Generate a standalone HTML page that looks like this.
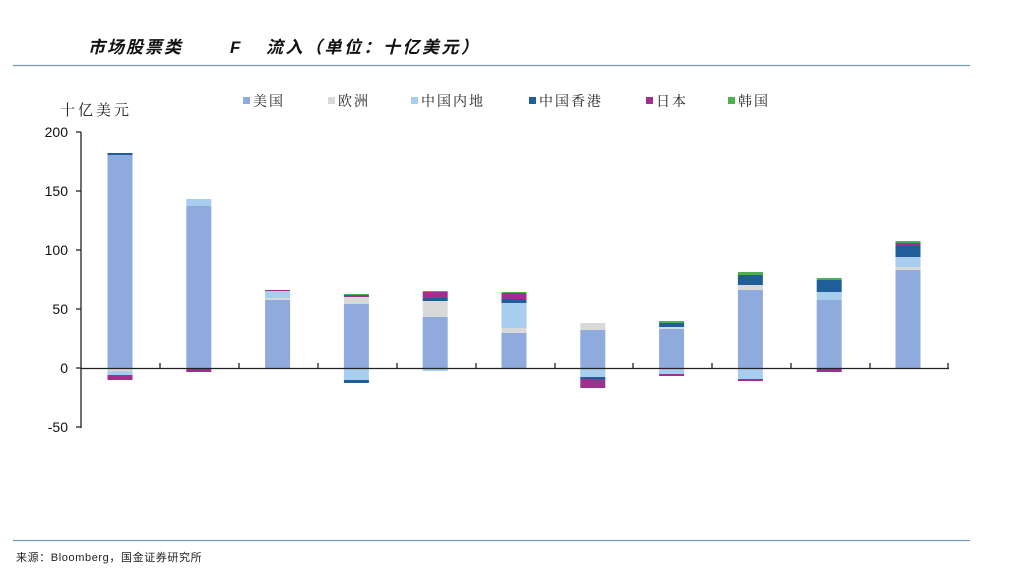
<!DOCTYPE html>
<html><head><meta charset="utf-8"><style>
body{margin:0;background:#fff;}
svg{display:block;font-family:"Liberation Sans","Noto Sans CJK SC",sans-serif;}
</style></head><body>
<svg width="1024" height="575" viewBox="0 0 1024 575" xmlns="http://www.w3.org/2000/svg">
<text x="88" y="53" font-size="17" font-weight="bold" font-style="italic" fill="#111" letter-spacing="2">市场股票类</text>
<text x="230" y="53" font-size="17" font-weight="bold" font-style="italic" fill="#111">F</text>
<text x="266" y="53" font-size="17" font-weight="bold" font-style="italic" fill="#111" letter-spacing="2.5">流入（单位：十亿美元）</text>
<line x1="13" y1="65.5" x2="970" y2="65.5" stroke="#6f9bb8" stroke-width="1.2"/>
<line x1="13" y1="540.5" x2="970" y2="540.5" stroke="#6f9bb8" stroke-width="1.2"/>
<text x="16" y="561" font-size="11" fill="#222" letter-spacing="0.6">来源：Bloomberg，国金证券研究所</text>
<text x="60" y="115" font-size="15" fill="#222" letter-spacing="3" font-family="'Noto Serif CJK SC',serif">十亿美元</text>
<g font-size="14" fill="#222" letter-spacing="2" font-family="'Noto Serif CJK SC',serif">
<rect x="243" y="97" width="7" height="7" fill="#8faadc"/><text x="253" y="106">美国</text>
<rect x="328" y="97" width="7" height="7" fill="#d9d9d9"/><text x="338" y="106">欧洲</text>
<rect x="411" y="97" width="7" height="7" fill="#a9cdee"/><text x="421" y="106">中国内地</text>
<rect x="529" y="97" width="7" height="7" fill="#1f5e99"/><text x="539" y="106">中国香港</text>
<rect x="646" y="97" width="7" height="7" fill="#a0308f"/><text x="656" y="106">日本</text>
<rect x="728" y="97" width="7" height="7" fill="#4caf50"/><text x="738" y="106">韩国</text>
</g>
<g font-size="14" fill="#111" text-anchor="end">
<text x="68" y="137">200</text><text x="68" y="196">150</text><text x="68" y="255">100</text>
<text x="68" y="314">50</text><text x="68" y="373">0</text><text x="68" y="432">-50</text>
</g>
<g>
<rect x="107.5" y="155" width="25" height="213" fill="#8faadc"/>
<rect x="107.5" y="153" width="25" height="2" fill="#1f5e99"/>
<rect x="107.5" y="368" width="25" height="3" fill="#d9d9d9"/>
<rect x="107.5" y="371" width="25" height="4" fill="#a9cdee"/>
<rect x="107.5" y="375" width="25" height="5" fill="#a0308f"/>

<rect x="186.3" y="206" width="25" height="162" fill="#8faadc"/>
<rect x="186.3" y="199" width="25" height="7" fill="#a9cdee"/>
<rect x="186.3" y="368" width="25" height="4" fill="#a0308f"/>

<rect x="265.1" y="300" width="25" height="68" fill="#8faadc"/>
<rect x="265.1" y="298" width="25" height="2" fill="#d9d9d9"/>
<rect x="265.1" y="291" width="25" height="7" fill="#a9cdee"/>
<rect x="265.1" y="290" width="25" height="1" fill="#a0308f"/>

<rect x="343.9" y="304" width="25" height="64" fill="#8faadc"/>
<rect x="343.9" y="297" width="25" height="7" fill="#d9d9d9"/>
<rect x="343.9" y="295" width="25" height="2" fill="#a0308f"/>
<rect x="343.9" y="294" width="25" height="1" fill="#4caf50"/>
<rect x="343.9" y="368" width="25" height="12" fill="#a9cdee"/>
<rect x="343.9" y="380" width="25" height="3" fill="#1f5e99"/>

<rect x="422.7" y="317" width="25" height="51" fill="#8faadc"/>
<rect x="422.7" y="301" width="25" height="16" fill="#d9d9d9"/>
<rect x="422.7" y="298" width="25" height="3" fill="#1f5e99"/>
<rect x="422.7" y="292" width="25" height="6" fill="#a0308f"/>
<rect x="422.7" y="291" width="25" height="1" fill="#4caf50"/>
<rect x="422.7" y="368" width="25" height="3" fill="#a9cdee"/>

<rect x="501.5" y="333" width="25" height="35" fill="#8faadc"/>
<rect x="501.5" y="328" width="25" height="5" fill="#d9d9d9"/>
<rect x="501.5" y="303" width="25" height="25" fill="#a9cdee"/>
<rect x="501.5" y="299" width="25" height="4" fill="#1f5e99"/>
<rect x="501.5" y="293" width="25" height="6" fill="#a0308f"/>
<rect x="501.5" y="292" width="25" height="1" fill="#4caf50"/>

<rect x="580.3" y="330" width="25" height="38" fill="#8faadc"/>
<rect x="580.3" y="323" width="25" height="7" fill="#d9d9d9"/>
<rect x="580.3" y="368" width="25" height="9" fill="#a9cdee"/>
<rect x="580.3" y="377" width="25" height="2" fill="#1f5e99"/>
<rect x="580.3" y="379" width="25" height="9" fill="#a0308f"/>

<rect x="659.1" y="329" width="25" height="39" fill="#8faadc"/>
<rect x="659.1" y="327" width="25" height="2" fill="#d9d9d9"/>
<rect x="659.1" y="323" width="25" height="4" fill="#1f5e99"/>
<rect x="659.1" y="321" width="25" height="2" fill="#4caf50"/>
<rect x="659.1" y="368" width="25" height="6" fill="#a9cdee"/>
<rect x="659.1" y="374" width="25" height="2" fill="#a0308f"/>

<rect x="737.9" y="290" width="25" height="78" fill="#8faadc"/>
<rect x="737.9" y="285" width="25" height="5" fill="#d9d9d9"/>
<rect x="737.9" y="275" width="25" height="10" fill="#1f5e99"/>
<rect x="737.9" y="272" width="25" height="3" fill="#4caf50"/>
<rect x="737.9" y="368" width="25" height="11" fill="#a9cdee"/>
<rect x="737.9" y="379" width="25" height="2" fill="#a0308f"/>

<rect x="816.7" y="300" width="25" height="68" fill="#8faadc"/>
<rect x="816.7" y="292" width="25" height="8" fill="#a9cdee"/>
<rect x="816.7" y="280" width="25" height="12" fill="#1f5e99"/>
<rect x="816.7" y="278" width="25" height="2" fill="#4caf50"/>
<rect x="816.7" y="368" width="25" height="4" fill="#a0308f"/>

<rect x="895.5" y="270" width="25" height="98" fill="#8faadc"/>
<rect x="895.5" y="267" width="25" height="3" fill="#d9d9d9"/>
<rect x="895.5" y="257" width="25" height="10" fill="#a9cdee"/>
<rect x="895.5" y="246" width="25" height="11" fill="#1f5e99"/>
<rect x="895.5" y="243" width="25" height="3" fill="#a0308f"/>
<rect x="895.5" y="241" width="25" height="2" fill="#4caf50"/>
</g>
<line x1="81" y1="132" x2="81" y2="428" stroke="#222" stroke-width="1.3"/>
<g stroke="#222" stroke-width="1.3">
<line x1="76" y1="132" x2="81" y2="132"/><line x1="76" y1="191" x2="81" y2="191"/><line x1="76" y1="250" x2="81" y2="250"/>
<line x1="76" y1="309" x2="81" y2="309"/><line x1="76" y1="368" x2="81" y2="368"/><line x1="76" y1="427" x2="81" y2="427"/>
<line x1="81" y1="368.5" x2="949" y2="368.5"/>
<line x1="160" y1="363" x2="160" y2="368"/><line x1="239" y1="363" x2="239" y2="368"/><line x1="318" y1="363" x2="318" y2="368"/>
<line x1="397" y1="363" x2="397" y2="368"/><line x1="476" y1="363" x2="476" y2="368"/><line x1="555" y1="363" x2="555" y2="368"/>
<line x1="633" y1="363" x2="633" y2="368"/><line x1="712" y1="363" x2="712" y2="368"/><line x1="791" y1="363" x2="791" y2="368"/>
<line x1="870" y1="363" x2="870" y2="368"/><line x1="948" y1="363" x2="948" y2="368"/>
</g>
</svg>
</body></html>
